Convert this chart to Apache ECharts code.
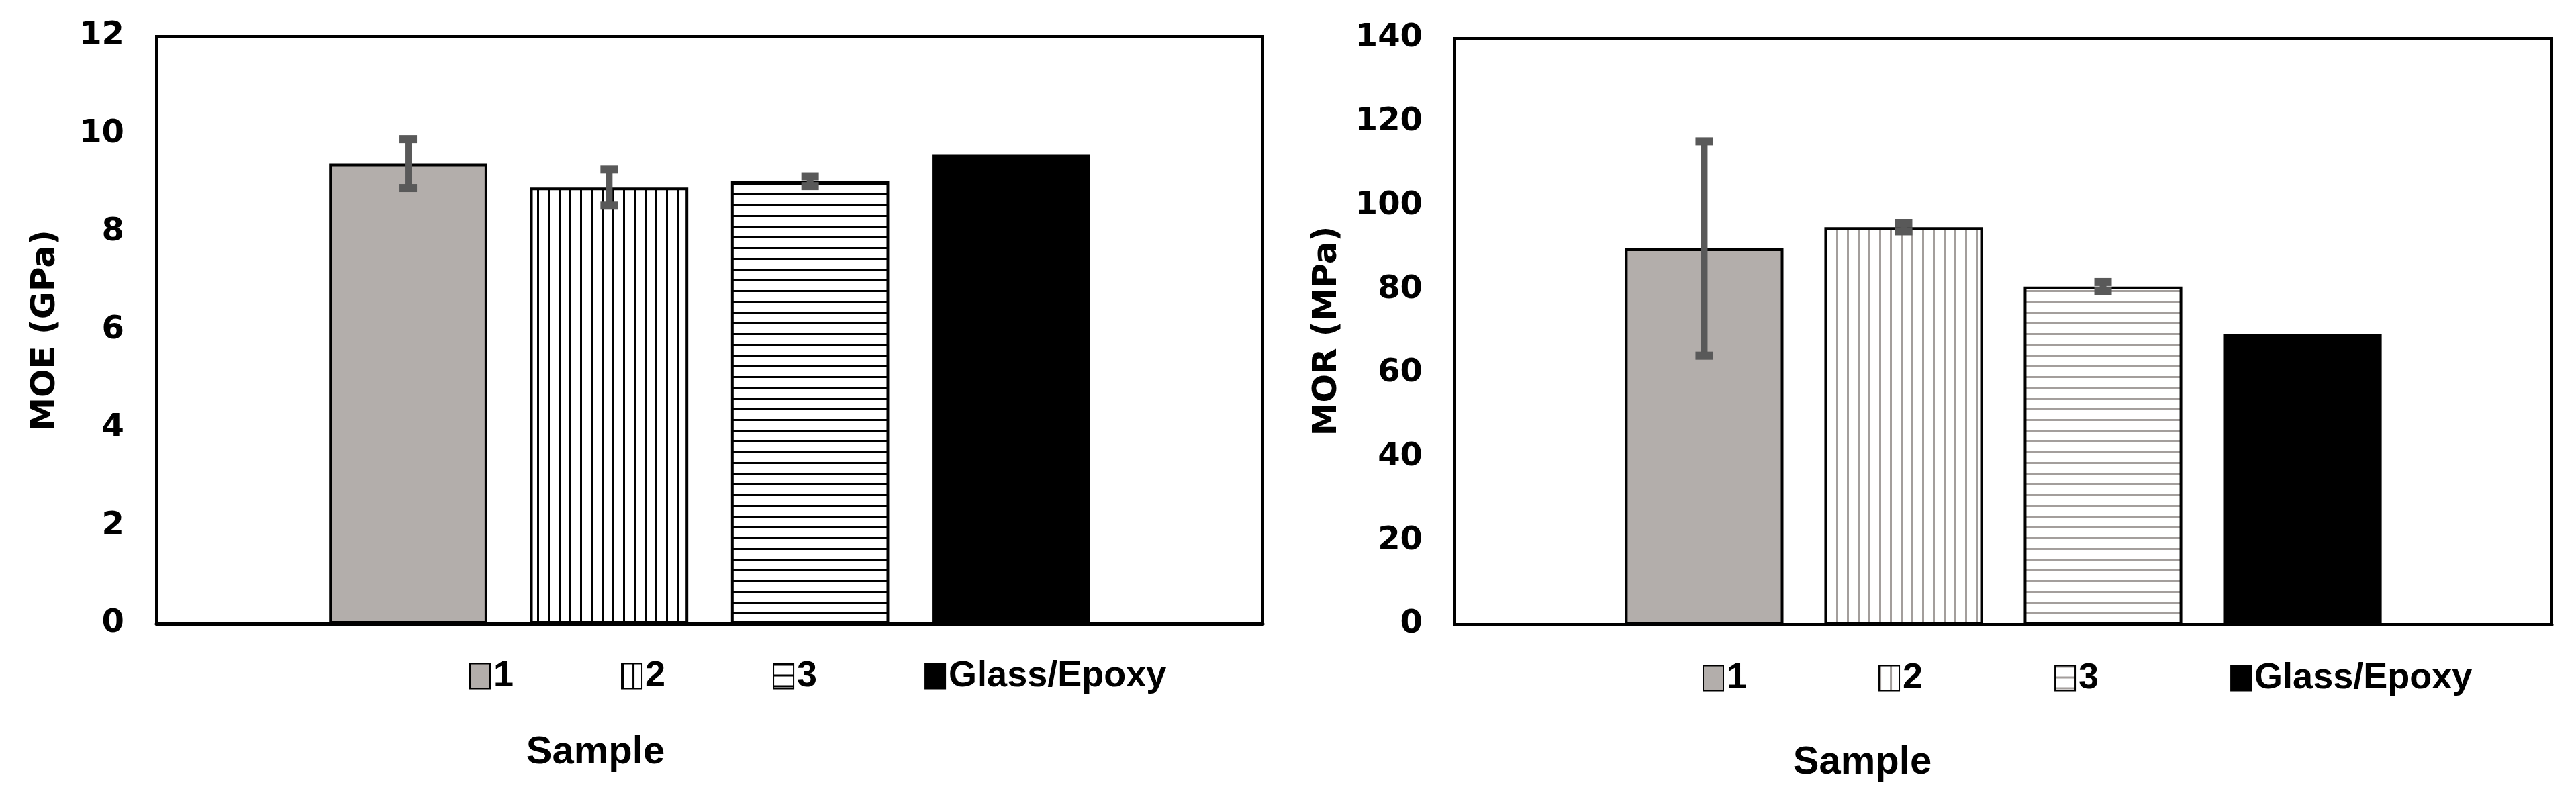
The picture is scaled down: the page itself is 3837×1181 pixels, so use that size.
<!DOCTYPE html>
<html><head><meta charset="utf-8">
<script src="https://cdn.jsdelivr.net/npm/echarts@6/dist/echarts.min.js"></script>
<style>
html,body{margin:0;padding:0;background:#fff;width:3837px;height:1181px;overflow:hidden}
#c1{position:absolute;left:0;top:0;width:1919px;height:1181px}
#c2{position:absolute;left:1919px;top:0;width:1918px;height:1181px}
</style></head>
<body><div id="c1"></div><div id="c2"></div>
<script>
const seriesNames = ['1', '2', '3', 'Glass/Epoxy'];
const moeValues = [9.40, 8.91, 9.04, 9.58];
const moeErrors = [0.50, 0.37, 0.10, 0];
const morValues = [89.8, 94.9, 80.7, 69.4];
const morErrors = [25.6, 1.0, 1.1, 0];
const moeAxis = {min: 0, max: 12, interval: 2};
const morAxis = {min: 0, max: 140, interval: 20};
const moeTitle = 'MOE (GPa)';
const morTitle = 'MOR (MPa)';
const xTitle = 'Sample';

function pattern(dir, color, lw, period) {
  const c = document.createElement('canvas');
  c.width = period; c.height = period;
  const g = c.getContext('2d');
  g.fillStyle = '#fff'; g.fillRect(0, 0, period, period);
  g.fillStyle = color;
  if (dir === 'v') g.fillRect(0, 0, lw, period); else g.fillRect(0, 0, period, lw);
  return {image: c, repeat: 'repeat'};
}

function build(el, cfg) {
  const chart = echarts.init(el, null, {renderer: 'canvas'});
  const series = seriesNames.map((n, i) => ({
    name: n, type: 'bar', data: [cfg.values[i]],
    barWidth: cfg.barPct + '%', barGap: cfg.gapPct + '%',
    itemStyle: {color: cfg.fills[i], borderColor: '#000', borderWidth: 4},
    emphasis: {disabled: true}, z: 2
  }));
  series.push({
    type: 'custom', name: 'err', coordinateSystem: 'cartesian2d', z: 5, silent: true,
    data: cfg.values.map((v, i) => [0, v, cfg.errors[i], i]).filter(d => d[2] > 0),
    renderItem(params, api) {
      const band = api.size([1, 0])[0];
      const w = band * cfg.barPct / 100, g = w * cfg.gapPct / 100;
      const off = (api.value(3) - 1.5) * (w + g);
      const top = api.coord([0, api.value(1) + api.value(2)]);
      const bot = api.coord([0, api.value(1) - api.value(2)]);
      const x = top[0] + off;
      const st = {fill: '#595959'};
      return {type: 'group', children: [
        {type: 'rect', shape: {x: x - 5, y: top[1], width: 10, height: bot[1] - top[1]}, style: st},
        {type: 'rect', shape: {x: x - 13, y: top[1] - 6, width: 26, height: 12}, style: st},
        {type: 'rect', shape: {x: x - 13, y: bot[1] - 6, width: 26, height: 12}, style: st}
      ]};
    }
  });
  chart.setOption({
    animation: false,
    backgroundColor: '#fff',
    grid: {left: cfg.grid[0], top: cfg.grid[1], width: cfg.grid[2], height: cfg.grid[3],
      show: true, borderColor: '#000', borderWidth: 4, backgroundColor: 'transparent'},
    xAxis: {type: 'category', data: [''],
      axisLine: {show: true, lineStyle: {color: '#000', width: 5}},
      axisTick: {show: false}, axisLabel: {show: false}},
    yAxis: {type: 'value', min: cfg.axis.min, max: cfg.axis.max, interval: cfg.axis.interval,
      axisLine: {show: true, lineStyle: {color: '#000', width: 4}},
      axisTick: {show: false}, splitLine: {show: false},
      axisLabel: {fontFamily: 'DejaVu Sans', fontWeight: 'bold', fontSize: 48, color: '#000', margin: 48}},
    legend: {data: seriesNames, left: cfg.legend[0], top: cfg.legend[1], itemGap: cfg.legend[2],
      itemWidth: 30, itemHeight: 37, icon: 'rect', selectedMode: false,
      textStyle: {fontFamily: 'Liberation Sans', fontWeight: 'bold', fontSize: 54, color: '#000', lineHeight: 40}},
    graphic: [
      {type: 'text', x: cfg.yTitlePos[0], y: cfg.yTitlePos[1], rotation: Math.PI / 2,
        style: {text: cfg.yTitle, font: 'bold 50px "DejaVu Sans"', fill: '#000',
          align: 'center', verticalAlign: 'middle', textAlign: 'center', textVerticalAlign: 'middle'}},
      {type: 'text', x: cfg.xTitlePos[0], y: cfg.xTitlePos[1],
        style: {text: xTitle, font: 'bold 58px "Liberation Sans"', fill: '#000',
          align: 'center', verticalAlign: 'middle', textAlign: 'center', textVerticalAlign: 'middle'}}
    ],
    series: series
  });
}

build(document.getElementById('c1'), {
  values: moeValues, errors: moeErrors, axis: moeAxis, yTitle: moeTitle,
  fills: ['#b3aeab', pattern('v', '#000', 3, 16), pattern('h', '#000', 3, 16), '#000'],
  grid: [233, 54, 1648, 875], barPct: 14.3, gapPct: 27,
  legend: [694, 975, 160], yTitlePos: [68, 492], xTitlePos: [887, 1121]
});
build(document.getElementById('c2'), {
  values: morValues, errors: morErrors, axis: morAxis, yTitle: morTitle,
  fills: ['#b3aeab', pattern('v', '#a39e9c', 3, 16), pattern('h', '#a39e9c', 3, 16), '#000'],
  grid: [248, 57, 1634, 873], barPct: 14.45, gapPct: 25.8,
  legend: [612, 978, 196], yTitlePos: [58, 493], xTitlePos: [855, 1136]
});
</script>
</body></html>
